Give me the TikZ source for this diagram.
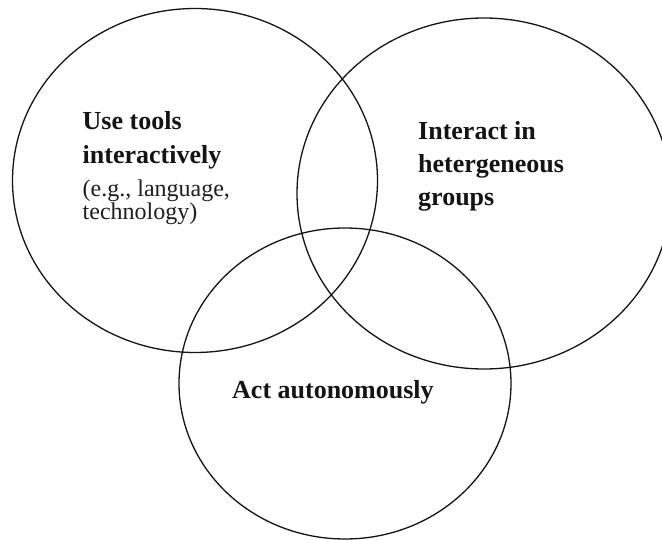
\documentclass[tikz,border=0pt]{standalone}
\usepackage{fontspec}
\setmainfont{Liberation Serif}
\begin{document}
\begin{tikzpicture}[x=1pt,y=-1pt,
  ring/.style={draw=black!92, line width=1.3pt},
  head/.style={font=\fontsize{26}{30}\selectfont\bfseries, text=black!92, anchor=base west, inner sep=0pt},
  note/.style={font=\fontsize{24}{28}\selectfont, text=black!88, anchor=base west, inner sep=0pt}]
\clip (0,0) rectangle (662,540);
\fill[white] (0,0) rectangle (662,540);

% three overlapping competency rings
\draw[ring] (195,180.5) ellipse [x radius=182.5pt, y radius=172pt];
\draw[ring] (484,193.5) ellipse [x radius=187pt, y radius=175.5pt];
\draw[ring] (345,383.5) ellipse [x radius=166pt, y radius=155.5pt];

% left ring
\node[head] (tools1) at (82.5,130) {Use tools};
\node[head] (tools2) at (82.5,164) {interactively};
\node[note] (tools3) at (82.5,197) {(e.g., language,};
\node[note] (tools4) at (82.5,220) {technology)};

% right ring
\node[head] (groups1) at (418,140) {Interact in};
\node[head] (groups2) at (418,173) {hetergeneous};
\node[head] (groups3) at (418,206) {groups};

% bottom ring
\node[head] (auto) at (232,399) {Act autonomously};
\end{tikzpicture}
\end{document}
